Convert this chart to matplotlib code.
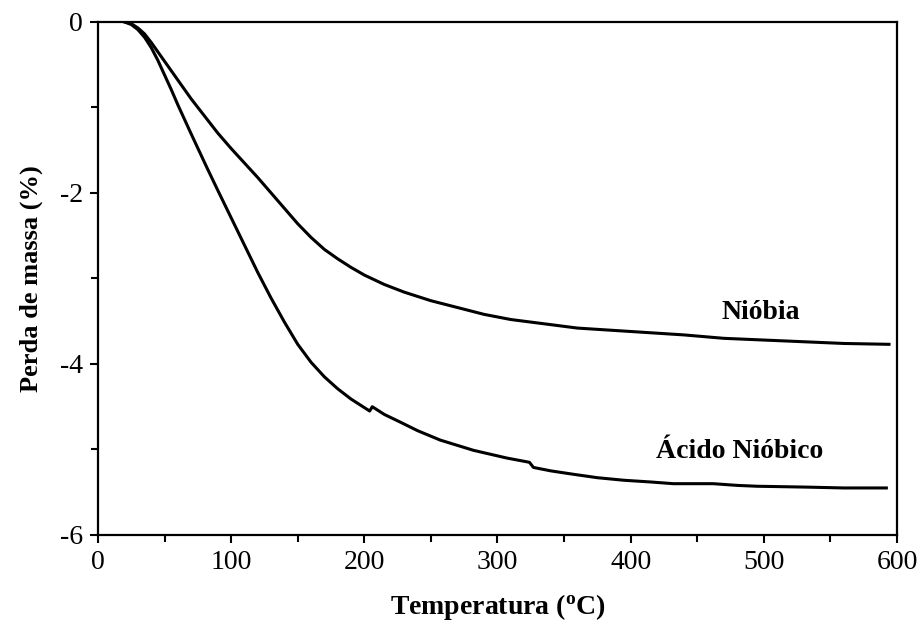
import numpy as np
import matplotlib
matplotlib.use("Agg")
import matplotlib.pyplot as plt
from matplotlib.ticker import MultipleLocator

# leitura da curva (temperatura em oC, perda de massa em %)
temp_niobia = [20, 25, 30, 35, 40, 45, 50, 60, 70, 80, 90, 100, 110, 120, 130, 140, 150,
               160, 170, 180, 190, 200, 215, 230, 250, 270, 290, 310, 330, 360, 400, 440,
               470, 500, 530, 560, 594]
perda_niobia = [0, -0.02, -0.07, -0.14, -0.24, -0.35, -0.46, -0.68, -0.90, -1.10, -1.30,
                -1.48, -1.65, -1.82, -2.00, -2.18, -2.36, -2.52, -2.66, -2.77, -2.87, -2.96,
                -3.07, -3.16, -3.26, -3.34, -3.42, -3.48, -3.52, -3.58, -3.62, -3.66, -3.70,
                -3.72, -3.74, -3.76, -3.77]

temp_acido = [20, 25, 30, 35, 40, 45, 50, 55, 60, 65, 70, 76, 82, 90, 100, 110, 120, 130,
              140, 150, 160, 170, 180, 190, 200, 204, 206, 215, 227, 240, 257, 282, 307,
              324, 327, 340, 357, 375, 395, 415, 432, 462, 480, 495, 532, 560, 592]
perda_acido = [0, -0.03, -0.09, -0.18, -0.30, -0.45, -0.62, -0.79, -0.97, -1.14, -1.31,
               -1.51, -1.71, -1.97, -2.29, -2.61, -2.93, -3.23, -3.51, -3.77, -3.98, -4.15,
               -4.29, -4.41, -4.51, -4.55, -4.50, -4.59, -4.68, -4.78, -4.89, -5.01, -5.10,
               -5.15, -5.21, -5.25, -5.29, -5.33, -5.36, -5.38, -5.40, -5.40, -5.42, -5.43,
               -5.44, -5.45, -5.45]

plt.rcParams['font.family'] = ['Liberation Serif', 'DejaVu Serif']
plt.rcParams['axes.unicode_minus'] = False
plt.rcParams['mathtext.fontset'] = 'custom'
plt.rcParams['mathtext.rm'] = 'Liberation Serif'
plt.rcParams['mathtext.bf'] = 'Liberation Serif:bold'

fig = plt.figure(figsize=(9.2, 6.35), dpi=100)
ax = fig.add_axes([0.1065, 0.1575, 0.8685, 0.8079])

ax.plot(temp_niobia, perda_niobia, color='black', lw=2.2)
ax.plot(temp_acido, perda_acido, color='black', lw=2.2)

ax.set_xlim(0, 600)
ax.set_ylim(-6, 0)
ax.xaxis.set_major_locator(MultipleLocator(100))
ax.xaxis.set_minor_locator(MultipleLocator(50))
ax.yaxis.set_major_locator(MultipleLocator(2))
ax.yaxis.set_minor_locator(MultipleLocator(1))
ax.tick_params(which='both', direction='out', width=1.5, labelsize=20, top=False, right=False)
ax.tick_params(which='major', length=6, pad=5)
ax.tick_params(which='minor', length=5)
for s in ax.spines.values():
    s.set_linewidth(1.6)

ax.text(498, -3.40, 'Nióbia', fontsize=20, fontweight='bold', ha='center', va='center')
ax.text(482, -5.02, 'Ácido Nióbico', fontsize=20, fontweight='bold', ha='center', va='center')

ax.set_xlabel(r'Temperatura ($\mathbf{^{o}}$C)', fontsize=20, fontweight='bold', labelpad=12)
ax.set_ylabel('Perda de massa (%)', fontsize=19, fontweight='bold', labelpad=12)

fig.savefig('out.png', dpi=100)
